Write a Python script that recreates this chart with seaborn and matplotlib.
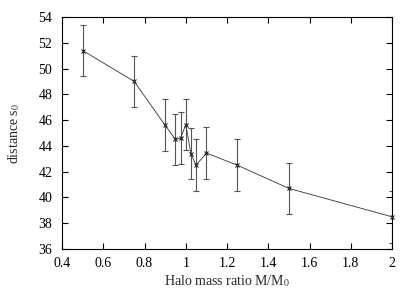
import numpy as np
import pandas as pd
import seaborn as sns
import matplotlib
matplotlib.use("Agg")
import matplotlib.pyplot as plt

# halo mass ratio vs distance s0
mass_ratio = [0.5, 0.75, 0.9, 0.95, 0.975, 1.0, 1.025, 1.05, 1.1, 1.25, 1.5, 2.0]
distance = [51.4, 49.0, 45.6, 44.5, 44.6, 45.65, 43.4, 42.5, 43.45, 42.5, 40.7, 38.5]
err = [2.0, 2.0, 2.0, 2.0, 2.0, 1.95, 2.0, 2.0, 2.0, 2.0, 2.0, 2.0]

df = pd.DataFrame({"ratio": mass_ratio, "dist": distance, "err": err})

sns.set_style("ticks")
plt.rcParams["font.family"] = ["Liberation Serif", "DejaVu Serif"]
plt.rcParams["mathtext.fontset"] = "stix"

fig = plt.figure(figsize=(4.15, 2.91), dpi=100)
ax = fig.add_axes([0.1494, 0.1443, 0.7952, 0.7973])

ax.errorbar(df["ratio"], df["dist"], yerr=df["err"], fmt="none",
            ecolor="#555555", elinewidth=0.8, capsize=2.5, capthick=0.8,
            zorder=2)
sns.lineplot(data=df, x="ratio", y="dist", ax=ax, color="#333333",
             linewidth=0.6, marker="x", markersize=3, markeredgewidth=0.8,
             markeredgecolor="#222222", sort=False, zorder=3, clip_on=False)

ax.set_xlim(0.4, 2.0)
ax.set_ylim(36, 54)
ax.set_xticks(np.arange(0.4, 2.01, 0.2))
ax.set_xticklabels(["0.4", "0.6", "0.8", "1", "1.2", "1.4", "1.6", "1.8", "2"])
ax.set_yticks(np.arange(36, 55, 2))

ax.tick_params(direction="in", top=True, right=True, length=4, width=0.8,
               labelsize=10, colors="black")
ax.tick_params(axis="x", pad=6)
ax.tick_params(axis="y", pad=7)
for s in ax.spines.values():
    s.set_linewidth(0.8)
    s.set_color("black")

ax.set_xlabel("Halo mass ratio M/M$_0$", fontsize=10, labelpad=2)
ax.set_ylabel("distance s$_0$", fontsize=10, labelpad=12)

fig.savefig("out.png", dpi=100)
